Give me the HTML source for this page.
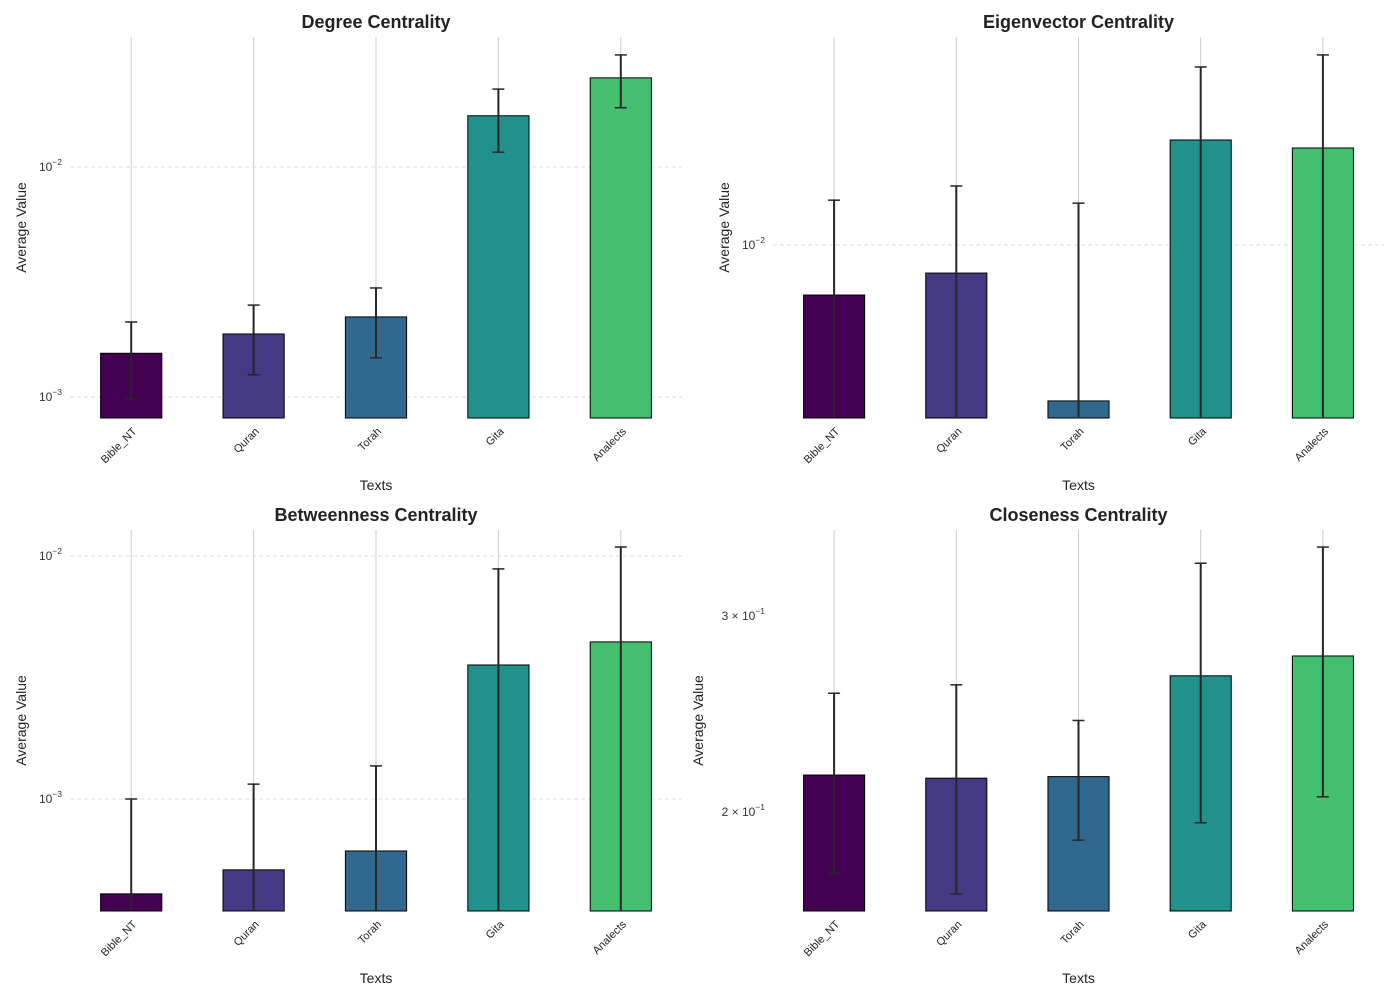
<!DOCTYPE html>
<html><head><meta charset="utf-8"><style>
body{margin:0;background:#fff;}
svg{display:block;font-family:"Liberation Sans",Arial,sans-serif;}
</style></head><body>
<svg id="c" width="1400" height="1000" viewBox="0 0 1400 1000"></svg>
<script>
const categories = ["Bible_NT","Quran","Torah","Gita","Analects"];
const colors = ["#440154","#443983","#31688e","#21918c","#44bf70"];
const degreeMean = [0.00155,0.00188,0.00223,0.0167,0.0244];
const degreeStd = [0.00057,0.00063,0.00075,0.0051,0.0063];
const eigenMean = [0.00606,0.00755,0.0021,0.0286,0.0264];
const eigenStd = [0.0096,0.0105,0.0131,0.0308,0.0406];
const betweenMean = [0.000407,0.000511,0.000611,0.00356,0.00443];
const betweenStd = [0.000593,0.00064,0.000757,0.00529,0.00646];
const closeMean = [0.2159,0.2145,0.2152,0.2651,0.2762];
const closeStd = [0.0398,0.0457,0.0265,0.0695,0.0698];
const degreeTicks = [0.01,0.001];
const eigenTicks = [0.01];
const betweenTicks = [0.01,0.001];
const closeTicks = [0.3,0.2];

const NS="http://www.w3.org/2000/svg";
const svg=document.getElementById('c');
function mk(tag,attrs,parent){const e=document.createElementNS(NS,tag);for(const k in attrs)e.setAttribute(k,attrs[k]);(parent||svg).appendChild(e);return e;}

const panels=[
 {title:"Degree Centrality",mean:degreeMean,std:degreeStd,ticks:degreeTicks,x0:70,x1:682,y0:37,y1:418,lt:-1.435,lb:-3.091,grid:true,fmt:"pow",name:"degree"},
 {title:"Eigenvector Centrality",mean:eigenMean,std:eigenStd,ticks:eigenTicks,x0:773,x1:1384,y0:37,y1:418,lt:-1.096,lb:-2.752,grid:true,fmt:"pow",name:"eigenvector"},
 {title:"Betweenness Centrality",mean:betweenMean,std:betweenStd,ticks:betweenTicks,x0:70,x1:682,y0:530,y1:911,lt:-1.893,lb:-3.461,grid:true,fmt:"pow",name:"betweenness"},
 {title:"Closeness Centrality",mean:closeMean,std:closeStd,ticks:closeTicks,x0:773,x1:1384,y0:530,y1:911,lt:-0.4456,lb:-0.7879,grid:false,fmt:"mant",name:"closeness"}
];

panels.forEach(p=>{
 const g=mk('g',{});
 
 
 const y=v=>{const l=Math.log10(Math.max(v,1e-12));return p.y1-(l-p.lb)/(p.lt-p.lb)*(p.y1-p.y0);};
 const clampY=v=>Math.min(p.y1,Math.max(p.y0,v));
 const step=(p.x1-p.x0)/categories.length;
 const x=i=>p.x0+step*(i+0.5);
 const bw=step*0.5;
 categories.forEach((c,i)=>{const l=mk('line',{x1:x(i),x2:x(i),y1:p.y0,y2:p.y1,stroke:'#cccccc','stroke-width':1},g);
  });
 p.ticks.forEach(t=>{
  const ty=y(t);
  if(p.grid){const l=mk('line',{x1:p.x0,x2:p.x1,y1:ty,y2:ty,stroke:'#dddddd','stroke-dasharray':'4,3','stroke-width':1},g);
   }
  const tx=mk('text',{x:p.x0-8,y:ty+4,'text-anchor':'end','font-size':12,fill:'#333'},g);
  
  const e=Math.floor(Math.log10(t)+1e-9);const m=Math.round(t/Math.pow(10,e));
  const base=(p.fmt==="mant"&&m!==1)?(m+" \u00d7 10"):"10";
  const a=mk('tspan',{},tx);a.textContent=base;
  const b=mk('tspan',{dy:-6,'font-size':8.5},tx);b.textContent="\u2212"+(-e);
 });
 categories.forEach((c,i)=>{
  const top=clampY(y(p.mean[i]));
  const r=mk('rect',{x:x(i)-bw/2,y:top,width:bw,height:p.y1-top,fill:colors[i],stroke:'#000','stroke-width':1},g);
  
 });
 categories.forEach((c,i)=>{
  const up=clampY(y(p.mean[i]+p.std[i]));
  const lo=p.mean[i]-p.std[i];
  const loY=lo>0?clampY(y(lo)):p.y1;
  const l=mk('line',{x1:x(i),x2:x(i),y1:up,y2:loY,stroke:'#262626','stroke-width':2},g);
  
  mk('line',{x1:x(i)-6,x2:x(i)+6,y1:up,y2:up,stroke:'#262626','stroke-width':1.5},g);
  if(loY<p.y1) mk('line',{x1:x(i)-6,x2:x(i)+6,y1:loY,y2:loY,stroke:'#262626','stroke-width':1.5},g);
 });
 categories.forEach((c,i)=>{
  const t=mk('text',{x:0,y:0,'text-anchor':'end','font-size':11,fill:'#222',transform:`translate(${x(i)+6},${p.y1+14}) rotate(-45)`},g);
  t.textContent=c;
 });
 const xt=mk('text',{x:(p.x0+p.x1)/2,y:p.y1+72,'text-anchor':'middle','font-size':14,fill:'#222'},g);
 xt.textContent="Texts";
 const lx=p.fmt==="mant"?p.x0-70:p.x0-44;
 const yt=mk('text',{x:0,y:0,'text-anchor':'middle','font-size':14,fill:'#222',transform:`translate(${lx},${(p.y0+p.y1)/2}) rotate(-90)`},g);
 yt.textContent="Average Value";
 const tt=mk('text',{x:(p.x0+p.x1)/2,y:p.y0-9,'text-anchor':'middle','font-size':18,'font-weight':'bold',fill:'#222'},g);
 tt.textContent=p.title;
});
</script>
</body></html>
